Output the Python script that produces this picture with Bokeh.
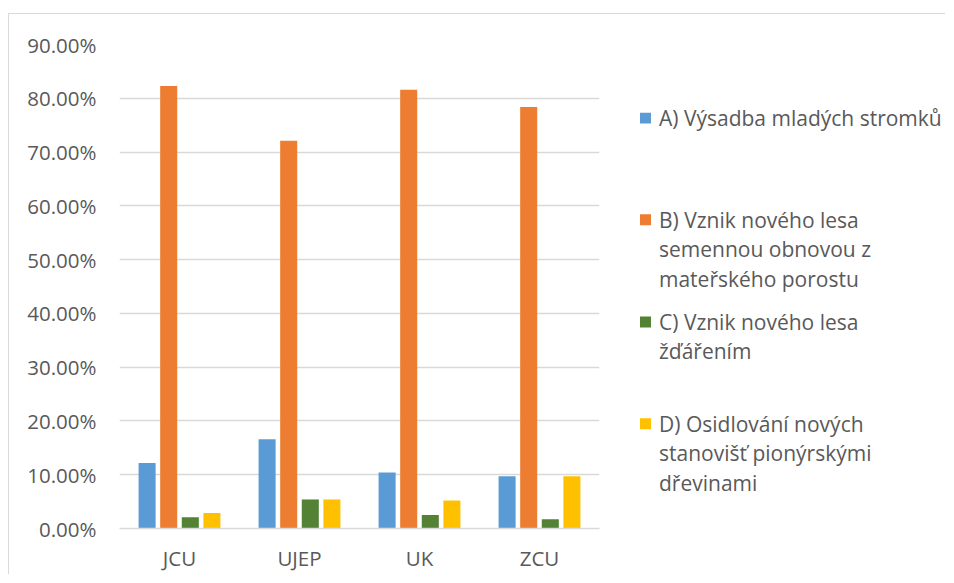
from bokeh.plotting import figure
from bokeh.models import FactorRange, Range1d, NumeralTickFormatter, FixedTicker, ColumnDataSource
from bokeh.transform import dodge
from bokeh.layouts import row
from bokeh.core.properties import value
from bokeh.embed import file_html
from bokeh.resources import INLINE

categories = ["JCU", "UJEP", "UK", "ZCU"]
series_names = [
    "A) Výsadba mladých stromků",
    "B) Vznik nového lesa\nsemennou obnovou z\nmateřského porostu",
    "C) Vznik nového lesa\nžďářením",
    "D) Osidlování nových\nstanovišť pionýrskými\ndřevinami",
]
series_a = [0.122, 0.166, 0.104, 0.097]
series_b = [0.823, 0.721, 0.816, 0.784]
series_c = [0.021, 0.054, 0.025, 0.017]
series_d = [0.029, 0.054, 0.052, 0.097]
y_ticks = [0.0, 0.1, 0.2, 0.3, 0.4, 0.5, 0.6, 0.7, 0.8, 0.9]

colors = ["#5B9BD5", "#ED7D31", "#548235", "#FFC000"]
TEXT = "#595959"
GRID = "#D9D9D9"
FONT = "Open Sans"
FS = "20.5px"
LFS = "21px"

# page offsets of the content box (inside border)
OX, OY = 9.5, 14.5
FRAME_TOP, FRAME_BOTTOM = 44, 528

src = ColumnDataSource(dict(cat=categories, a=series_a, b=series_b, c=series_c, d=series_d))

p = figure(x_range=FactorRange(*categories, range_padding=0), y_range=Range1d(0, 0.9),
           frame_width=480, frame_height=FRAME_BOTTOM - FRAME_TOP, min_border_left=int(round(120 - OX)),
           min_border_right=10, min_border_top=int(round(FRAME_TOP - OY)), min_border_bottom=40, title=None,
           output_backend="svg", toolbar_location=None, tools="")
p.outline_line_color = None
p.background_fill_color = "white"
p.border_fill_color = "white"

offsets = [-0.27, -0.09, 0.09, 0.27]
for key, off, col in zip(["a", "b", "c", "d"], offsets, colors):
    p.vbar(x=dodge("cat", off, range=p.x_range), top=key, width=0.142, source=src,
           fill_color=col, line_color=None)

p.xgrid.grid_line_color = None
p.ygrid.grid_line_color = GRID
p.ygrid.grid_line_width = 1.5
p.yaxis.ticker = FixedTicker(ticks=y_ticks)
p.yaxis.formatter = NumeralTickFormatter(format="0.00%")
for ax in (p.xaxis[0], p.yaxis[0]):
    ax.major_label_text_color = TEXT
    ax.major_label_text_font = FONT
    ax.major_label_text_font_size = FS
    ax.major_tick_line_color = None
    ax.minor_tick_line_color = None
p.yaxis.axis_line_color = None
p.yaxis.major_label_standoff = 17
p.xaxis.axis_line_color = GRID
p.xaxis.axis_line_width = 1.5
p.xaxis.major_label_standoff = 9

MAIN_W = int(round(120 - OX)) + 480 + 10
MAIN_H = int(round(FRAME_TOP - OY)) + (FRAME_BOTTOM - FRAME_TOP) + 40

# legend panel; its frame is aligned with the main frame vertically
LX0 = OX + MAIN_W
LW, LH = 336, MAIN_H
leg = figure(width=LW, height=LH, x_range=Range1d(LX0, LX0 + LW), y_range=Range1d(FRAME_BOTTOM, FRAME_TOP),
             output_backend="svg", toolbar_location=None, tools="", title=None,
             min_border=0, min_border_left=0, min_border_right=0, min_border_top=0, min_border_bottom=0)
leg.axis.visible = False
leg.grid.visible = False
leg.outline_line_color = None
leg.border_fill_color = "white"

entry_first_line_y = [118.5, 221.5, 325, 428]
line_h = 29.8
sq_x, sq_y, sq_c = [], [], []
tx, ty, tt = [], [], []
for name, y0, col in zip(series_names, entry_first_line_y, colors):
    sq_x.append(645.5); sq_y.append(y0); sq_c.append(col)
    for i, line in enumerate(name.split("\n")):
        tx.append(659); ty.append(y0 + i * line_h); tt.append(line)
leg.rect(x=sq_x, y=sq_y, width=11, height=11, fill_color=sq_c, line_color=None)
leg.text(x=tx, y=ty, text=tt, text_font=value(FONT), text_font_size=LFS, text_color=TEXT,
         text_baseline="middle", text_align="left")

layout = row(p, leg, styles={"border-top": "1.5px solid #D9D9D9", "border-left": "1.5px solid #D9D9D9",
                             "margin-top": "13px", "margin-left": "8px", "background": "white"})

open("out.html", "w").write(file_html(layout, INLINE))
